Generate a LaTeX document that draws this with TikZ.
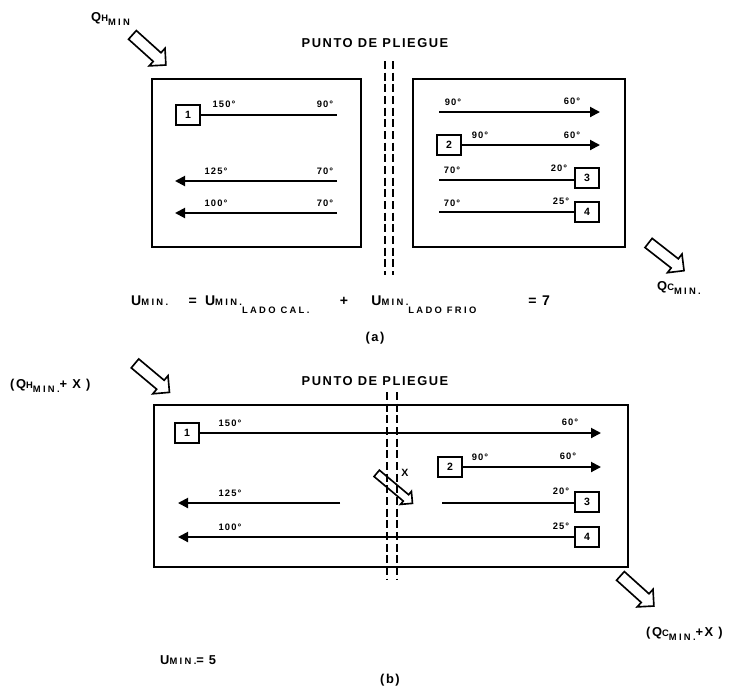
\documentclass[tikz,border=0pt]{standalone}
\usepackage{fontspec}
\setmainfont{Liberation Sans}[LetterSpace=12]
\usetikzlibrary{arrows.meta, shapes.arrows}
\tikzset{
    x=0.3mm, y=-0.3mm,
    pp_box/.style={draw, line width=2.3pt},
    pp_num/.style={
        rectangle,
        draw,
        line width=1.6pt,
        minimum width=7mm,
        minimum height=5.8mm,
        inner sep=0pt,
        font=\bfseries\small
    },
    pp_stream/.style={line width=1.7pt},
    pp_arrow/.style={
        pp_stream,
        -{Triangle[length=3mm, width=3mm]}
    },
    pp_fold/.style={line width=1.6pt, dash pattern=on 2.4mm off 1.1mm},
    pp_temp/.style={font=\bfseries\footnotesize, inner sep=0pt},
    pp_heat/.style={
        single arrow,
        draw,
        line width=1.4pt,
        inner xsep=0pt,
        inner ysep=1.5mm,
        minimum height=13.5mm,
        single arrow head extend=1.8mm
    },
    pp_title/.style={font=\bfseries\fontsize{11}{13}\selectfont, inner sep=0pt},
    pp_label/.style={font=\bfseries\fontsize{11}{13}\selectfont, inner sep=0pt}
}
\newcommand{\ppsub}[2]{\raisebox{#1}{\footnotesize\addfontfeatures{LetterSpace=25}#2}}

\begin{document}
\begin{tikzpicture}
\useasboundingbox (0,0) rectangle (731,687);

% --- (a) pinch design, hot and cold side apart ---
\node[pp_label, anchor=base west] (qhmin) at (91,21) {Q\ppsub{0pt}{H}\ppsub{-3.5pt}{MIN}};
\node[pp_heat, rotate=-42] (qhin) at (147,48) {};
\node[pp_title] (pinchA) at (375,43) {PUNTO DE PLIEGUE};

\draw[pp_box] (152,79) rectangle (361,247);
\draw[pp_box] (413,79) rectangle (625,247);
\draw[pp_fold] (385,61) -- (385,275);
\draw[pp_fold] (393,61) -- (393,275);

% hot side
\node[pp_num] (hotA1) at (188,115) {1};
\coordinate (hotA1e) at (337,115);
\draw[pp_stream] (hotA1) -- (hotA1e);
\node[pp_temp] (tA1) at (224,104) {150°};
\node[pp_temp] (tA2) at (325,104) {90°};

\coordinate (hotA3s) at (337,181);
\coordinate (hotA3e) at (175,181);
\draw[pp_arrow] (hotA3s) -- (hotA3e);
\node[pp_temp] (tA3) at (216,171) {125°};
\node[pp_temp] (tA4) at (325,171) {70°};

\coordinate (hotA4s) at (337,213);
\coordinate (hotA4e) at (175,213);
\draw[pp_arrow] (hotA4s) -- (hotA4e);
\node[pp_temp] (tA5) at (216,203) {100°};
\node[pp_temp] (tA6) at (325,203) {70°};

% cold side
\coordinate (coldA1s) at (439,112);
\coordinate (coldA1e) at (600,112);
\draw[pp_arrow] (coldA1s) -- (coldA1e);
\node[pp_temp] (tA7) at (453,102) {90°};
\node[pp_temp] (tA8) at (572,101) {60°};

\node[pp_num] (coldA2) at (449,145) {2};
\coordinate (coldA2e) at (600,145);
\draw[pp_arrow] (coldA2) -- (coldA2e);
\node[pp_temp] (tA9) at (480,135) {90°};
\node[pp_temp] (tA10) at (572,135) {60°};

\node[pp_num] (coldA3) at (587,178) {3};
\coordinate (coldA3s) at (439,180);
\draw[pp_stream] (coldA3s) -- (coldA3s -| coldA3.west);
\node[pp_temp] (tA11) at (452,170) {70°};
\node[pp_temp] (tA12) at (559,168) {20°};

\node[pp_num] (coldA4) at (587,212) {4};
\coordinate (coldA4s) at (439,212);
\draw[pp_stream] (coldA4s) -- (coldA4);
\node[pp_temp] (tA13) at (452,203) {70°};
\node[pp_temp] (tA14) at (561,201) {25°};

\node[pp_heat, rotate=-38] (qcout) at (664,255) {};
\node[pp_label, anchor=base west] (qcmin) at (657,290) {Q\ppsub{0pt}{C}\ppsub{-4pt}{MIN.}};

\node[pp_label, anchor=base west, font=\bfseries\fontsize{12}{14}\selectfont] (uminA) at (131,305)
    {\makebox[49pt][l]{U\ppsub{0pt}{MIN.}}\makebox[14pt][l]{=}\makebox[115pt][l]{U\ppsub{0pt}{MIN.}\ppsub{-7pt}{LADO CAL.}}\makebox[27pt][l]{+}\makebox[134pt][l]{U\ppsub{0pt}{MIN.}\ppsub{-7pt}{LADO FRIO}}= 7};
\node[pp_title] (capA) at (375,338) {(a)};

% --- (b) heat transferred across the pinch ---
\node[pp_label, anchor=base west] (qhminx) at (10,388) {(Q\ppsub{0pt}{H}\ppsub{-3.5pt}{MIN.}+ X )};
\node[pp_heat, rotate=-40] (qhinx) at (150,376) {};
\node[pp_title] (pinchB) at (375,381) {PUNTO DE PLIEGUE};

\draw[pp_box] (154,405) rectangle (628,567);
\draw[pp_fold] (387,392) -- (387,580);
\draw[pp_fold] (397,392) -- (397,580);

\node[pp_num] (hotB1) at (187,433) {1};
\coordinate (hotB1e) at (601,433);
\draw[pp_arrow] (hotB1) -- (hotB1e);
\node[pp_temp] (tB1) at (230,423) {150°};
\node[pp_temp] (tB2) at (570,422) {60°};

\node[pp_num] (coldB2) at (450,467) {2};
\coordinate (coldB2e) at (601,467);
\draw[pp_arrow] (coldB2) -- (coldB2e);
\node[pp_temp] (tB3) at (480,457) {90°};
\node[pp_temp] (tB4) at (568,456) {60°};

\coordinate (hotB3s) at (340,503);
\coordinate (hotB3e) at (178,503);
\draw[pp_arrow] (hotB3s) -- (hotB3e);
\node[pp_temp] (tB5) at (230,493) {125°};

\node[pp_num] (coldB3) at (587,502) {3};
\coordinate (coldB3s) at (442,503);
\draw[pp_stream] (coldB3s) -- (coldB3s -| coldB3.west);
\node[pp_temp] (tB6) at (561,491) {20°};

\node[pp_num] (hotB4) at (587,537) {4};
\coordinate (hotB4e) at (178,537);
\draw[pp_arrow] (hotB4) -- (hotB4e);
\node[pp_temp] (tB7) at (230,527) {100°};
\node[pp_temp] (tB8) at (561,526) {25°};

\node[pp_heat, rotate=-40, minimum height=14mm, inner ysep=1mm, single arrow head extend=1.3mm] (xcross) at (393,487) {};
\node[pp_temp, font=\bfseries\small] (xlab) at (405,473) {X};

\node[pp_heat, rotate=-42] (qcoutx) at (635,589) {};
\node[pp_label, anchor=base west] (qcminx) at (646,636) {(Q\ppsub{0pt}{C}\ppsub{-3.5pt}{MIN.}+X )};

\node[pp_label, anchor=base west] (uminB) at (160,664) {U\ppsub{0pt}{MIN.}= 5};
\node[pp_title] (capB) at (390,680) {(b)};

\end{tikzpicture}
\end{document}
